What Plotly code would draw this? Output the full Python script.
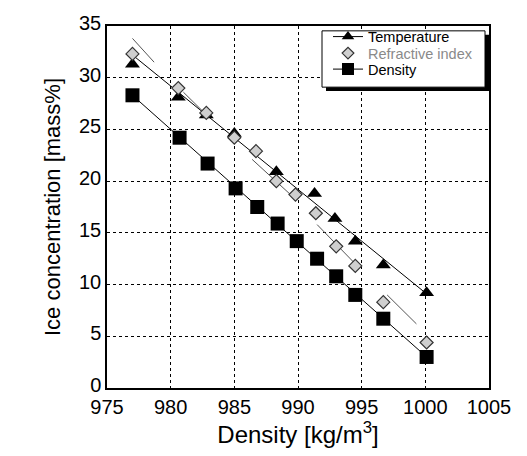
import plotly.graph_objects as go

# Data
temp_x = [977.0, 980.6, 982.8, 985.0, 988.3, 991.3, 992.9, 994.5, 996.7, 1000.1]
temp_y = [31.3, 28.1, 26.4, 24.6, 20.9, 18.8, 16.4, 14.2, 11.9, 9.2]

ri_x = [977.0, 980.6, 982.8, 985.0, 986.7, 988.3, 989.8, 991.4, 993.0, 994.5, 996.7, 1000.1]
ri_y = [32.3, 29.0, 26.6, 24.2, 22.9, 20.0, 18.7, 16.9, 13.7, 11.8, 8.3, 4.4]

dens_x = [977.0, 980.7, 982.9, 985.1, 986.8, 988.4, 989.9, 991.5, 993.0, 994.5, 996.7, 1000.1]
dens_y = [28.3, 24.2, 21.7, 19.3, 17.5, 15.9, 14.2, 12.5, 10.8, 9.0, 6.7, 3.0]

# Fitted lines
temp_fit_x = [977.0, 1000.1]
temp_fit_y = [32.2, 9.1]
dens_fit_x = [977.0, 1000.1]
dens_fit_y = [28.3, 3.0]

# Refractive-index local fit segments (start x, start y, end x, end y)
ri_seg_x0 = [977.0, 981.0, 986.4, 991.5, 997.0]
ri_seg_y0 = [33.8, 28.6, 22.1, 15.8, 9.0]
ri_seg_x1 = [978.7, 982.9, 989.5, 994.5, 999.3]
ri_seg_y1 = [31.5, 26.3, 18.6, 12.0, 6.2]

x_ticks = [975, 980, 985, 990, 995, 1000, 1005]
y_ticks = [0, 5, 10, 15, 20, 25, 30, 35]

FONT = "Liberation Sans, Arial, sans-serif"

fig = go.Figure()

# fit lines
fig.add_trace(go.Scatter(x=temp_fit_x, y=temp_fit_y, mode="lines",
                         line=dict(color="black", width=1), showlegend=False, hoverinfo="skip"))
fig.add_trace(go.Scatter(x=dens_fit_x, y=dens_fit_y, mode="lines",
                         line=dict(color="black", width=1), showlegend=False, hoverinfo="skip"))
for a, b, c, d in zip(ri_seg_x0, ri_seg_y0, ri_seg_x1, ri_seg_y1):
    fig.add_trace(go.Scatter(x=[a, c], y=[b, d], mode="lines",
                             line=dict(color="#555555", width=1), showlegend=False, hoverinfo="skip"))

# markers
fig.add_trace(go.Scatter(x=dens_x, y=dens_y, mode="markers", showlegend=False,
                         marker=dict(symbol="square", size=14, color="black")))
fig.add_trace(go.Scatter(x=temp_x, y=temp_y, mode="markers", showlegend=False,
                         marker=dict(symbol="triangle-up", size=13, color="black")))
fig.add_trace(go.Scatter(x=ri_x, y=ri_y, mode="markers", showlegend=False,
                         marker=dict(symbol="diamond", size=10, color="#cfcfcf",
                                     line=dict(color="#333333", width=1.2))))

# legend entries (one legend each, so they can be stacked tightly)
fig.add_trace(go.Scatter(x=[None], y=[None], mode="lines+markers", name="Temperature",
                         line=dict(color="black", width=1), legend="legend",
                         marker=dict(symbol="triangle-up", size=11, color="black")))
fig.add_trace(go.Scatter(x=[None], y=[None], mode="markers", legend="legend2",
                         name="<span style='color:#8a8a8a'>Refractive index</span>",
                         marker=dict(symbol="diamond", size=9, color="#cfcfcf",
                                     line=dict(color="#333333", width=1.2))))
fig.add_trace(go.Scatter(x=[None], y=[None], mode="lines+markers", name="Density",
                         line=dict(color="black", width=1), legend="legend3",
                         marker=dict(symbol="square", size=12, color="black")))

L, R, T, B = 107, 38, 15, 68
W, H = 527, 456
pw, ph = W - L - R, H - T - B

def px(xp):
    return (xp - L) / pw

def py(yp):
    return (H - B - yp) / ph

# legend box with drop shadow
fig.add_shape(type="rect", xref="paper", yref="paper",
              x0=px(326), x1=px(489), y0=py(82), y1=py(24),
              fillcolor="black", line=dict(width=0), layer="above")
fig.add_shape(type="rect", xref="paper", yref="paper",
              x0=px(322), x1=px(485), y0=py(78), y1=py(20),
              fillcolor="white", line=dict(color="black", width=1), layer="above")

def leg(top):
    return dict(x=px(328), y=py(top), xanchor="left", yanchor="top",
                bgcolor="rgba(0,0,0,0)", borderwidth=0,
                font=dict(size=14.5, family=FONT), itemsizing="trace")

fig.update_layout(
    width=W, height=H,
    margin=dict(l=L, r=R, t=T, b=B),
    paper_bgcolor="white", plot_bgcolor="white",
    font=dict(family=FONT, color="black"),
    legend=leg(9.5), legend2=leg(26.5), legend3=leg(43),
    xaxis=dict(range=[975, 1005], tickvals=x_ticks, ticktext=[str(v) for v in x_ticks],
               showgrid=True, gridcolor="black", griddash="dot", gridwidth=1,
               showline=True, linecolor="black", linewidth=1.5, mirror=True,
               ticks="", zeroline=False, tickfont=dict(size=20),
               title=dict(text="Density [kg/m<sup>3</sup>]", font=dict(size=24), standoff=8)),
    yaxis=dict(range=[0, 35], tickvals=y_ticks, ticklabelshift=-3,
               showgrid=True, gridcolor="black", griddash="dot", gridwidth=1,
               showline=True, linecolor="black", linewidth=1.5, mirror=True,
               ticks="", zeroline=False, tickfont=dict(size=20),
               title=dict(text="Ice concentration [mass%]", font=dict(size=22), standoff=12)),
)

fig.write_html("out.html")
